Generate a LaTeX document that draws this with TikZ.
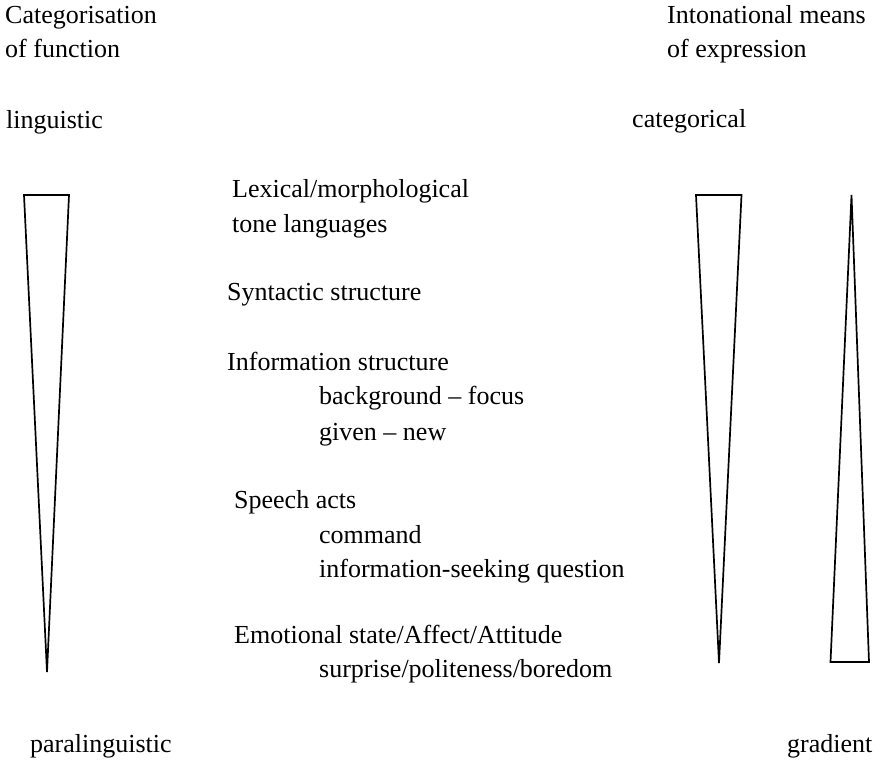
\documentclass[tikz,border=0pt]{standalone}
\usepackage{fontspec}
\setmainfont{Liberation Serif}
\begin{document}
\begin{tikzpicture}[x=1pt,y=-1pt,
  lbl/.style={anchor=base west,inner sep=0pt,font=\fontsize{26}{31}\selectfont},
  wedge/.style={draw=black,line width=1.7pt,line join=miter}]
\useasboundingbox (0,0) rectangle (880,760);
% headers
\node[lbl] (h1a) at (5,24) {Categorisation};
\node[lbl] (h1b) at (5,57) {of function};
\node[lbl] (h2a) at (667,24) {Intonational means};
\node[lbl] (h2b) at (667,57) {of expression};
\node[lbl] (ling) at (6,128) {linguistic};
\node[lbl] (cat) at (632,127) {categorical};
\node[lbl] (para) at (30,752) {paralinguistic};
\node[lbl] (grad) at (787,752) {gradient};
% middle list
\node[lbl] (lex) at (232,197) {Lexical/morphological};
\node[lbl] (tone) at (232,232) {tone languages};
\node[lbl] (syn) at (227,300) {Syntactic structure};
\node[lbl] (inf) at (227,370) {Information structure};
\node[lbl] (bgf) at (319,404) {background -- focus};
\node[lbl] (gn) at (319,440) {given -- new};
\node[lbl] (sa) at (234,508) {Speech acts};
\node[lbl] (cmd) at (319,543) {command};
\node[lbl] (isq) at (319,577) {information-seeking question};
\node[lbl] (emo) at (234,643) {Emotional state/Affect/Attitude};
\node[lbl] (spb) at (319,677) {surprise/politeness/boredom};
% wedges
\draw[wedge] (24,195) -- (69,195) -- (47,672) -- cycle;
\draw[wedge] (696,195) -- (741.5,195) -- (719,663) -- cycle;
\draw[wedge] (851.5,195) -- (869,662) -- (830.5,662) -- cycle;
\end{tikzpicture}
\end{document}
